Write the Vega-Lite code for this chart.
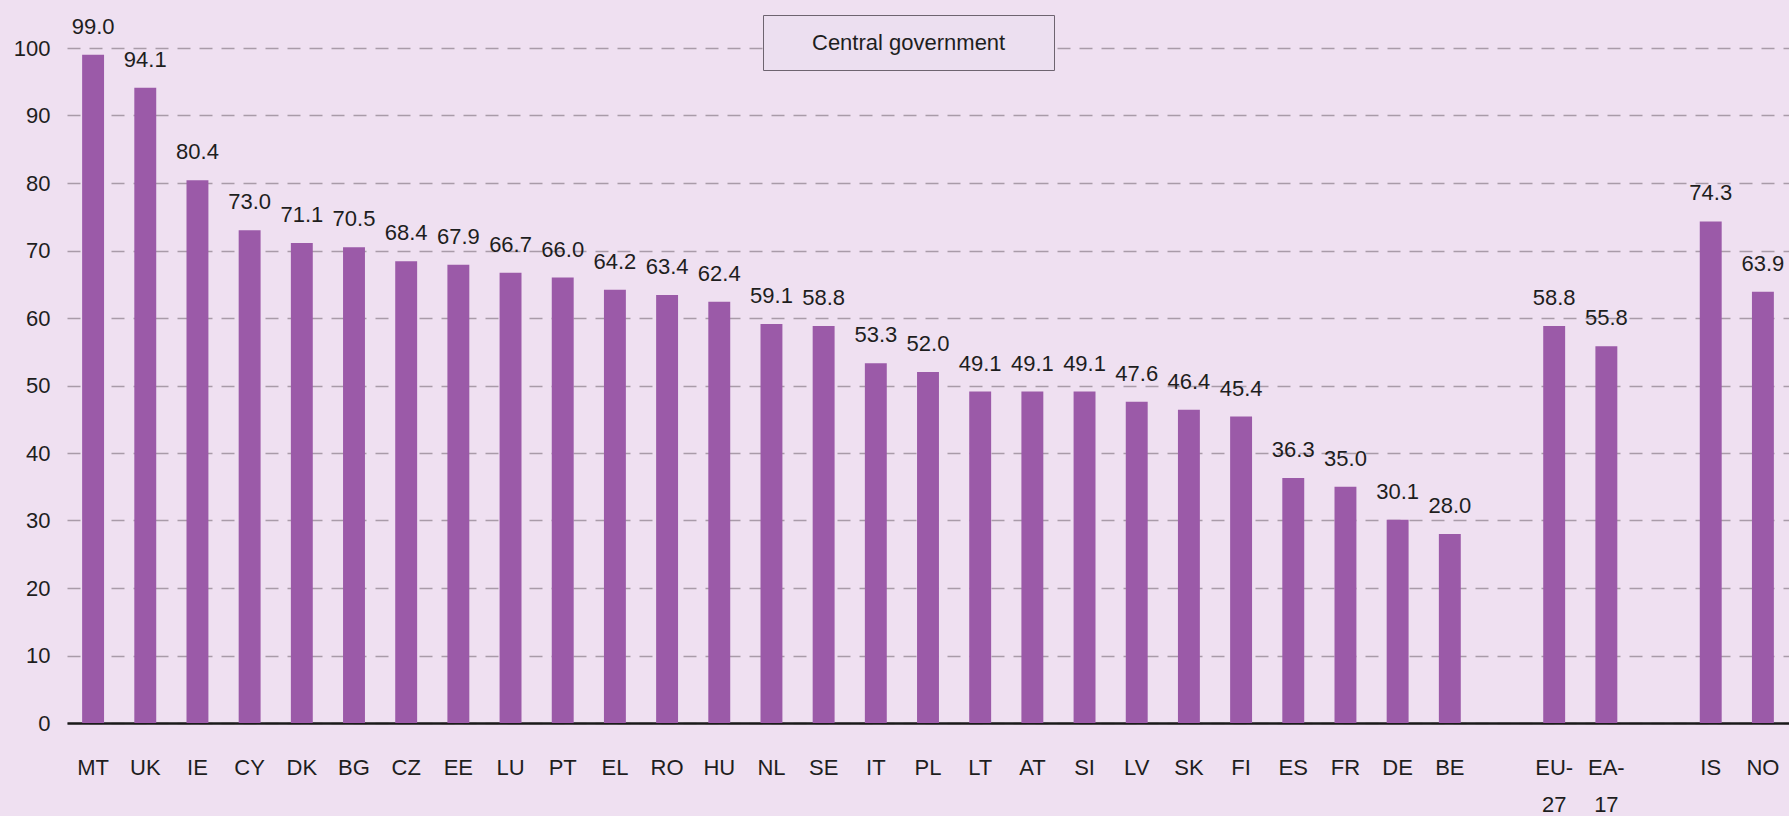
{
  "$schema": "https://vega.github.io/schema/vega-lite/v6.json",
  "width": 1722,
  "height": 675,
  "autosize": {"type": "none"},
  "padding": {"left": 67, "top": 48, "right": 0, "bottom": 93},
  "background": "#efe0f1",
  "config": {
    "view": {"stroke": null},
    "font": "Liberation Sans"
  },
  "data": {
    "values": [
      {"geo": "MT", "value": 99.0, "series": "Central government"},
      {"geo": "UK", "value": 94.1, "series": "Central government"},
      {"geo": "IE", "value": 80.4, "series": "Central government"},
      {"geo": "CY", "value": 73.0, "series": "Central government"},
      {"geo": "DK", "value": 71.1, "series": "Central government"},
      {"geo": "BG", "value": 70.5, "series": "Central government"},
      {"geo": "CZ", "value": 68.4, "series": "Central government"},
      {"geo": "EE", "value": 67.9, "series": "Central government"},
      {"geo": "LU", "value": 66.7, "series": "Central government"},
      {"geo": "PT", "value": 66.0, "series": "Central government"},
      {"geo": "EL", "value": 64.2, "series": "Central government"},
      {"geo": "RO", "value": 63.4, "series": "Central government"},
      {"geo": "HU", "value": 62.4, "series": "Central government"},
      {"geo": "NL", "value": 59.1, "series": "Central government"},
      {"geo": "SE", "value": 58.8, "series": "Central government"},
      {"geo": "IT", "value": 53.3, "series": "Central government"},
      {"geo": "PL", "value": 52.0, "series": "Central government"},
      {"geo": "LT", "value": 49.1, "series": "Central government"},
      {"geo": "AT", "value": 49.1, "series": "Central government"},
      {"geo": "SI", "value": 49.1, "series": "Central government"},
      {"geo": "LV", "value": 47.6, "series": "Central government"},
      {"geo": "SK", "value": 46.4, "series": "Central government"},
      {"geo": "FI", "value": 45.4, "series": "Central government"},
      {"geo": "ES", "value": 36.3, "series": "Central government"},
      {"geo": "FR", "value": 35.0, "series": "Central government"},
      {"geo": "DE", "value": 30.1, "series": "Central government"},
      {"geo": "BE", "value": 28.0, "series": "Central government"},
      {"geo": "EU-27", "value": 58.8, "series": "Central government"},
      {"geo": "EA-17", "value": 55.8, "series": "Central government"},
      {"geo": "IS", "value": 74.3, "series": "Central government"},
      {"geo": "NO", "value": 63.9, "series": "Central government"}
    ]
  },
  "encoding": {
    "x": {
      "field": "geo",
      "type": "nominal",
      "sort": null,
      "scale": {
        "domain": ["MT", "UK", "IE", "CY", "DK", "BG", "CZ", "EE", "LU", "PT", "EL", "RO", "HU", "NL", "SE", "IT", "PL", "LT", "AT", "SI", "LV", "SK", "FI", "ES", "FR", "DE", "BE", "gap1", "EU-27", "EA-17", "gap2", "IS", "NO"],
        "paddingInner": 0.58,
        "paddingOuter": 0.29
      },
      "axis": {
        "title": null,
        "labelAngle": 0,
        "ticks": false,
        "labelPadding": 34,
        "labelFontSize": 22,
        "labelColor": "#1e1e1e",
        "labelLineHeight": 37,
        "labelBaseline": "top",
        "domainColor": "#1a1a1a",
        "domainWidth": 2.5,
        "grid": false,
        "labelExpr": "datum.value == 'EU-27' ? ['EU-', '27'] : datum.value == 'EA-17' ? ['EA-', '17'] : (indexof(datum.value, 'gap') == 0 ? '' : datum.value)"
      }
    },
    "y": {
      "field": "value",
      "type": "quantitative",
      "scale": {"domain": [0, 100], "nice": false},
      "axis": {
        "title": null,
        "values": [0, 10, 20, 30, 40, 50, 60, 70, 80, 90, 100],
        "ticks": false,
        "domain": false,
        "labelPadding": 17,
        "labelFontSize": 22,
        "labelColor": "#1e1e1e",
        "gridColor": "#a99ba9",
        "gridWidth": 1.5,
        "gridDash": [13, 9]
      }
    }
  },
  "layer": [
    {
      "mark": {"type": "bar"},
      "encoding": {
        "color": {
          "field": "series",
          "type": "nominal",
          "scale": {"range": ["#9b5aa8"]},
          "legend": {
            "title": null,
            "orient": "none",
            "legendX": 696,
            "legendY": -33,
            "padding": 14,
            "fillColor": "#ecdff0",
            "strokeColor": "#6e6470",
            "labelFontSize": 22,
            "labelColor": "#1e1e1e",
            "labelLimit": 500,
            "symbolOpacity": 0,
            "symbolStrokeWidth": 0,
            "symbolType": "M-9.74,-1H9.74V1H-9.74Z",
            "symbolSize": 729,
            "symbolOffset": 118,
            "labelOffset": -110
          }
        }
      }
    },
    {
      "mark": {"type": "text", "baseline": "alphabetic", "dy": -21, "fontSize": 22, "color": "#1e1e1e"},
      "encoding": {
        "text": {"field": "value", "type": "quantitative", "format": ".1f"}
      }
    }
  ]
}
